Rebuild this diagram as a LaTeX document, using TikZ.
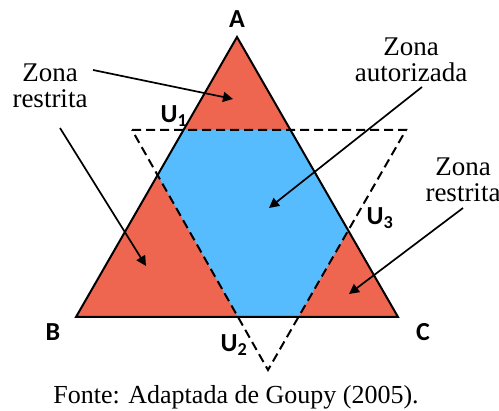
\documentclass[tikz,border=0pt]{standalone}
\usepackage{fontspec}
\setmainfont{Liberation Serif}
\newfontfamily\labfont{Carlito}
\usetikzlibrary{arrows.meta}
\definecolor{zred}{HTML}{EF6650}
\definecolor{zblue}{HTML}{57BCFE}
\begin{document}
\begin{tikzpicture}[x=1pt,y=1pt,
  vlabel/.style={font=\labfont\bfseries\fontsize{26}{28}\selectfont, inner sep=0pt},
  zlabel/.style={font=\fontsize{27}{26}\selectfont, align=center, inner sep=0pt},
  ptr/.style={line width=1.7pt, -{Triangle[length=10pt,width=10pt]}},
  solidtri/.style={line width=2pt, line join=miter},
  dashtri/.style={line width=2pt, dash pattern=on 9pt off 5pt}]
\useasboundingbox (0,0) rectangle (499,411);
% vertices
\coordinate (A) at (237,374);
\coordinate (B) at (76,94);
\coordinate (C) at (398,94);
\coordinate (P) at (132,281);
\coordinate (Q) at (406,281);
\coordinate (R) at (268,41);
% fills
\fill[zred] (A) -- (B) -- (C) -- cycle;
\begin{scope}
  \clip (A) -- (B) -- (C) -- cycle;
  \fill[zblue] (P) -- (Q) -- (R) -- cycle;
\end{scope}
% outlines
\draw[dashtri] (P) -- (Q) -- (R) -- cycle;
\draw[solidtri] (A) -- (B) -- (C) -- cycle;
% vertex labels
\node[vlabel] (lA) at (237,392) {A};
\node[vlabel] (lB) at (53,79) {B};
\node[vlabel] (lC) at (423,79) {C};
\node[vlabel] (lU1) at (174,295) {U\textsubscript{1}};
\node[vlabel] (lU2) at (234,66) {U\textsubscript{2}};
\node[vlabel] (lU3) at (380,193) {U\textsubscript{3}};
% zone labels
\node[zlabel] (zl) at (50,325) {Zona\\restrita};
\node[zlabel] (za) at (411,351) {Zona\\autorizada};
\node[zlabel] (zr) at (463,231) {Zona\\restrita};
% arrow points
\coordinate (s1) at (93,341);  \coordinate (e1) at (233,312);
\coordinate (s2) at (60,283);  \coordinate (e2) at (146,145);
\coordinate (s3) at (422,324); \coordinate (e3) at (269,203);
\coordinate (s4) at (463,203); \coordinate (e4) at (349,117);
\draw[ptr] (s1) -- (e1);
\draw[ptr] (s2) -- (e2);
\draw[ptr] (s3) -- (e3);
\draw[ptr] (s4) -- (e4);
% caption
\node[font=\fontsize{26}{28}\selectfont, inner sep=0pt] (cap) at (236,14) {Fonte: Adaptada de Goupy (2005).};
\end{tikzpicture}
\end{document}
